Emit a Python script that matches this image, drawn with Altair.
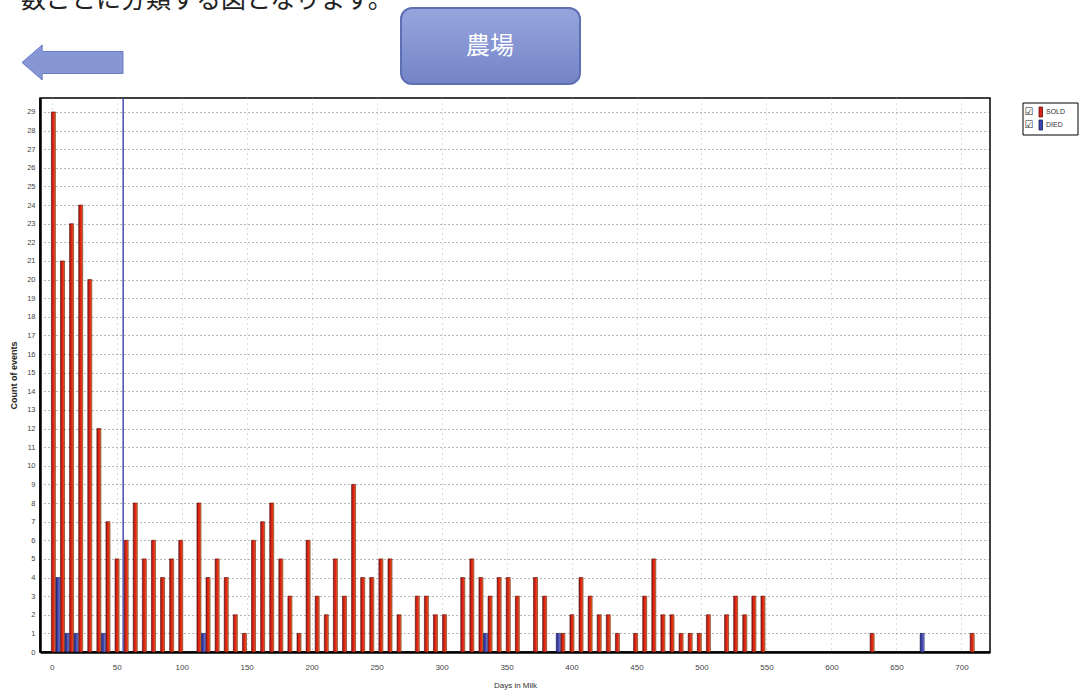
import altair as alt
import pandas as pd

# ---- data (weekly bins of Days in Milk) ----
bin_start = list(range(0, 714, 7))  # 102 bins: 0, 7, ..., 707
sold_counts = [29, 21, 23, 24, 20, 12, 7, 5, 6, 8,
               5, 6, 4, 5, 6, 0, 8, 4, 5, 4,
               2, 1, 6, 7, 8, 5, 3, 1, 6, 3,
               2, 5, 3, 9, 4, 4, 5, 5, 2, 0,
               3, 3, 2, 2, 0, 4, 5, 4, 3, 4,
               4, 3, 0, 4, 3, 0, 1, 2, 4, 3,
               2, 2, 1, 0, 1, 3, 5, 2, 2, 1,
               1, 1, 2, 0, 2, 3, 2, 3, 3, 0,
               0, 0, 0, 0, 0, 0, 0, 0, 0, 0,
               1, 0, 0, 0, 0, 0, 0, 0, 0, 0,
               0, 1]
died_counts = [4, 1, 1, 0, 0, 1, 0, 0, 0, 0,
               0, 0, 0, 0, 0, 0, 1, 0, 0, 0,
               0, 0, 0, 0, 0, 0, 0, 0, 0, 0,
               0, 0, 0, 0, 0, 0, 0, 0, 0, 0,
               0, 0, 0, 0, 0, 0, 0, 1, 0, 0,
               0, 0, 0, 0, 0, 1, 0, 0, 0, 0,
               0, 0, 0, 0, 0, 0, 0, 0, 0, 0,
               0, 0, 0, 0, 0, 0, 0, 0, 0, 0,
               0, 0, 0, 0, 0, 0, 0, 0, 0, 0,
               0, 0, 0, 0, 0, 1, 0, 0, 0, 0,
               0, 0]
series_names = ["SOLD", "DIED"]
marker_day = [55]
x_ticks = list(range(0, 701, 50))
y_ticks = list(range(0, 30))
button_label = "農場"
top_text = "数ごとに分類する図となります。"

FONT = "Liberation Sans"
JP = "Noto Sans CJK JP"

df = pd.DataFrame({"day": bin_start, "SOLD": sold_counts, "DIED": died_counts})

x_scale = alt.Scale(domain=[-9, 722], nice=False, zero=False, padding=0)
y_scale = alt.Scale(domain=[0, 29.75], nice=False, padding=0)

x_axis = alt.Axis(values=x_ticks, title="Days in Milk", labelFontSize=8, labelColor="#444",
                  titleFontSize=8, titleFontWeight="normal", titleColor="#333", titlePadding=10,
                  ticks=False, labelPadding=11, domainColor="black", domainWidth=2.5,
                  grid=True, gridColor="#b8b8b8", gridDash=[1, 4], gridWidth=1)
y_axis = alt.Axis(values=y_ticks, title="Count of events", labelFontSize=7.5, labelColor="#444",
                  titleFontSize=9, titleFontWeight="bold", titleColor="#222", titlePadding=8,
                  ticks=False, labelPadding=5, domainColor="black", domainWidth=2.5,
                  grid=True, gridColor="#6d6d6d", gridDash=[1, 3], gridWidth=1)

sold_grad = alt.Gradient(gradient="linear", x1=0, x2=1, y1=0, y2=0,
                         stops=[alt.GradientStop(offset=0, color="#7a140e"),
                                alt.GradientStop(offset=0.3, color="#d01e16"),
                                alt.GradientStop(offset=0.7, color="#e83018"),
                                alt.GradientStop(offset=1, color="#f2a12a")])
died_grad = alt.Gradient(gradient="linear", x1=0, x2=1, y1=0, y2=0,
                         stops=[alt.GradientStop(offset=0, color="#23267a"),
                                alt.GradientStop(offset=0.5, color="#3f45b0"),
                                alt.GradientStop(offset=1, color="#8a90dc")])

base = alt.Chart(df)

sold_bars = base.transform_filter("datum.SOLD > 0").transform_calculate(
    pos="datum.day + 1.3").mark_bar(size=4, fill=sold_grad, stroke="#5a0f08", strokeWidth=0.6).encode(
    x=alt.X("pos:Q", scale=x_scale, axis=x_axis),
    y=alt.Y("SOLD:Q", scale=y_scale, axis=y_axis),
)
died_bars = base.transform_filter("datum.DIED > 0").transform_calculate(
    pos="datum.day + 4.8").mark_bar(size=4, fill=died_grad, stroke="#1a1c55", strokeWidth=0.6).encode(
    x=alt.X("pos:Q", scale=x_scale, axis=x_axis),
    y=alt.Y("DIED:Q", scale=y_scale, axis=y_axis),
)

marker = alt.Chart(pd.DataFrame({"d": marker_day})).mark_rule(
    color="#5258b4", strokeWidth=1.6).encode(x=alt.X("d:Q", scale=x_scale, axis=x_axis))

one = alt.Chart(pd.DataFrame({"a": [0]}))

# decorations above the plot
arrow_path = ("M-1,0 L-0.6,-0.347 L-0.6,-0.218 L1,-0.218 L1,0.218 "
              "L-0.6,0.218 L-0.6,0.347 Z")
arrow = one.mark_point(shape=arrow_path, size=10201, filled=True, fill="#8797d6",
                       stroke="#6a7bc2", strokeWidth=1, opacity=1).encode(
    x=alt.value(32.5), y=alt.value(-35.5))

btn_grad = alt.Gradient(gradient="linear", x1=0, x2=0, y1=0, y2=1,
                        stops=[alt.GradientStop(offset=0, color="#98a6de"),
                               alt.GradientStop(offset=1, color="#7383c6")])
button = one.mark_rect(cornerRadius=11, fill=btn_grad, stroke="#5e6fb4", strokeWidth=2).encode(
    x=alt.value(361), x2=alt.value(540), y=alt.value(-90), y2=alt.value(-14))
button_text = one.mark_text(font=JP, fontSize=24, color="white").encode(
    x=alt.value(450), y=alt.value(-51), text=alt.value(button_label))

top_line = one.mark_text(font=JP, fontSize=25, color="#222", align="left", baseline="bottom").encode(
    x=alt.value(-19), y=alt.value(-85), text=alt.value(top_text))

# manual legend (checkbox, colour bar, label)
legend_box = one.mark_rect(fill="white", stroke="black", strokeWidth=1).encode(
    x=alt.value(983), x2=alt.value(1038), y=alt.value(5), y2=alt.value(37))
legend_layers = [legend_box]
leg_fills = {"SOLD": "#d8221a", "DIED": "#3e44b0"}
leg_strokes = {"SOLD": "#5a0f08", "DIED": "#1a1c55"}
for i, name in enumerate(series_names):
    yc = 14 + 13 * i
    legend_layers.append(one.mark_text(font="DejaVu Sans", fontSize=10, color="#222").encode(
        x=alt.value(989), y=alt.value(yc), text=alt.value("☑")))
    legend_layers.append(one.mark_rect(fill=leg_fills[name], stroke=leg_strokes[name], strokeWidth=0.8).encode(
        x=alt.value(999), x2=alt.value(1002.5), y=alt.value(yc - 5), y2=alt.value(yc + 5)))
    legend_layers.append(one.mark_text(font=FONT, fontSize=7, color="#333", align="left").encode(
        x=alt.value(1006), y=alt.value(yc), text=alt.value(name)))

chart = alt.layer(
    sold_bars, died_bars, marker, arrow, button, button_text, top_line, *legend_layers
).properties(
    width=950, height=554,
    padding={"left": 40, "top": 98, "right": 90, "bottom": 44},
    autosize=alt.AutoSizeParams(type="none"),
    background="white",
).configure(
    font=FONT
).configure_view(
    stroke="black", strokeWidth=1.5
)

chart.save("out.html", embed_options={"renderer": "svg", "actions": False})
